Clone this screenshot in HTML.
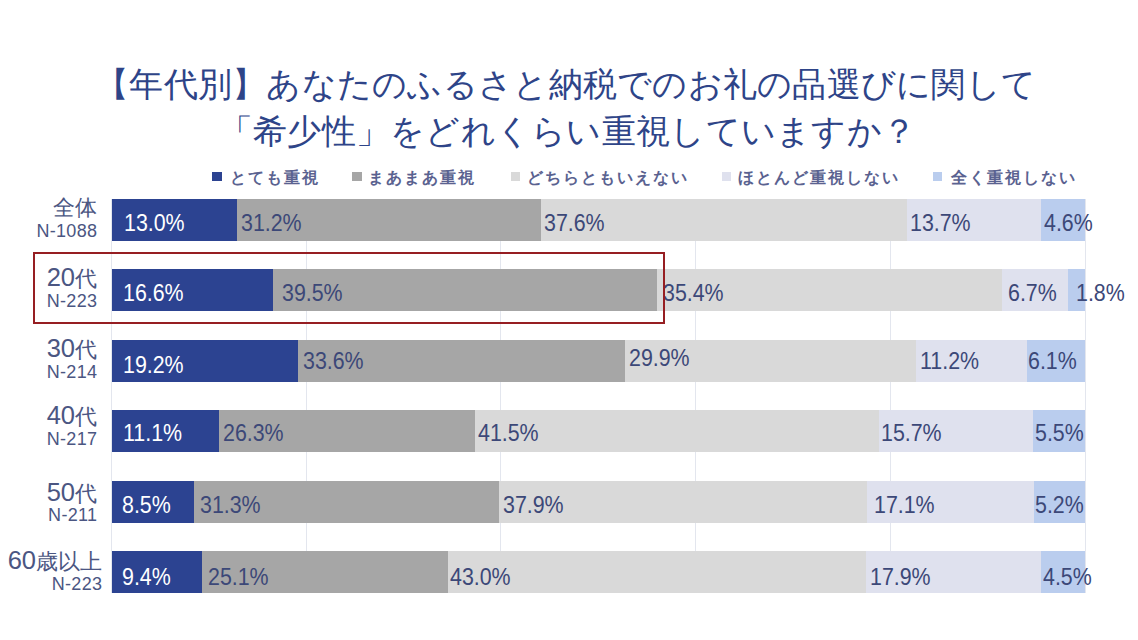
<!DOCTYPE html>
<html><head><meta charset="utf-8">
<style>
html,body{margin:0;padding:0;background:#fff;}
body{width:1138px;height:640px;position:relative;overflow:hidden;font-family:"Liberation Sans",sans-serif;}
.a{position:absolute;white-space:nowrap;}
.t{color:#2e4488;font-size:34px;line-height:40px;}
.lg{font-size:16px;line-height:20px;color:#5a6290;font-weight:bold;letter-spacing:2px;}
.mk{width:9.5px;height:9.2px;}
.g{width:1px;background:#e3e6ee;}
.s{height:42px;}
.v{font-size:23.5px;line-height:24px;color:#3c4878;transform:scaleX(0.91);transform-origin:0 0;}
.w{color:#fff;}
.c1{font-size:22px;line-height:24px;color:#4b5682;text-align:right;}
.d{font-size:25.5px;}
.c2{font-size:18px;line-height:18px;color:#4b5682;text-align:right;letter-spacing:0.3px;}
</style></head><body>

<div class="a t" style="top:64px;left:95px;letter-spacing:0.27px">【年代別】あなたのふるさと納税でのお礼の品選びに関して</div>
<div class="a t" style="top:110.5px;left:218.8px;letter-spacing:0.27px">「希少性」をどれくらい重視していますか？</div>
<div class="a mk" style="left:212.0px;top:171.5px;background:#2c4391"></div>
<div class="a lg" style="left:229.5px;top:167.5px">とても重視</div>
<div class="a mk" style="left:352.2px;top:171.5px;background:#a6a6a6"></div>
<div class="a lg" style="left:368.2px;top:167.5px">まあまあ重視</div>
<div class="a mk" style="left:510.5px;top:171.5px;background:#d9d9d9"></div>
<div class="a lg" style="left:526.5px;top:167.5px">どちらともいえない</div>
<div class="a mk" style="left:721.5px;top:171.5px;background:#dfe1ee"></div>
<div class="a lg" style="left:737.5px;top:167.5px">ほとんど重視しない</div>
<div class="a mk" style="left:932.5px;top:171.5px;background:#bacdee"></div>
<div class="a lg" style="left:950.5px;top:167.5px">全く重視しない</div>
<div class="a g" style="left:111.0px;top:199px;height:394px"></div>
<div class="a g" style="left:305.5px;top:199px;height:394px"></div>
<div class="a g" style="left:500.0px;top:199px;height:394px"></div>
<div class="a g" style="left:695.0px;top:199px;height:394px"></div>
<div class="a g" style="left:889.5px;top:199px;height:394px"></div>
<div class="a g" style="left:1084.5px;top:199px;height:394px"></div>
<div class="a s" style="left:111.5px;top:199.3px;width:973.5px;background:#2c4391"></div>
<div class="a s" style="left:237.2px;top:199.3px;width:847.8px;background:#a6a6a6"></div>
<div class="a s" style="left:540.7px;top:199.3px;width:544.3px;background:#d9d9d9"></div>
<div class="a s" style="left:907.3px;top:199.3px;width:177.7px;background:#dfe1ee"></div>
<div class="a s" style="left:1041px;top:199.3px;width:44.0px;background:#bacdee"></div>
<div class="a v w" style="left:123.6px;top:210.6px">13.0%</div>
<div class="a v" style="left:241.0px;top:210.6px">31.2%</div>
<div class="a v" style="left:544.3px;top:210.6px">37.6%</div>
<div class="a v" style="left:909.7px;top:210.6px">13.7%</div>
<div class="a v" style="left:1044.1px;top:210.6px">4.6%</div>
<div class="a c1" style="right:1041.0px;top:195.5px">全体</div>
<div class="a c2" style="right:1040.7px;top:221.8px">N-1088</div>
<div class="a s" style="left:111.5px;top:269.3px;width:973.5px;background:#2c4391"></div>
<div class="a s" style="left:272.6px;top:269.3px;width:812.4px;background:#a6a6a6"></div>
<div class="a s" style="left:657px;top:269.3px;width:428.0px;background:#d9d9d9"></div>
<div class="a s" style="left:1001.9px;top:269.3px;width:83.1px;background:#dfe1ee"></div>
<div class="a s" style="left:1068px;top:269.3px;width:17.0px;background:#bacdee"></div>
<div class="a v w" style="left:123.3px;top:280.6px">16.6%</div>
<div class="a v" style="left:282.2px;top:280.6px">39.5%</div>
<div class="a v" style="left:662.5px;top:280.6px">35.4%</div>
<div class="a v" style="left:1007.7px;top:280.6px">6.7%</div>
<div class="a v" style="left:1076.2px;top:280.6px">1.8%</div>
<div class="a c1" style="right:1041.0px;top:264.8px"><span class="d">20</span>代</div>
<div class="a c2" style="right:1040.7px;top:291.8px">N-223</div>
<div class="a s" style="left:111.5px;top:339.5px;width:973.5px;background:#2c4391"></div>
<div class="a s" style="left:297.6px;top:339.5px;width:787.4px;background:#a6a6a6"></div>
<div class="a s" style="left:624.6px;top:339.5px;width:460.4px;background:#d9d9d9"></div>
<div class="a s" style="left:915.8px;top:339.5px;width:169.2px;background:#dfe1ee"></div>
<div class="a s" style="left:1026.5px;top:339.5px;width:58.5px;background:#bacdee"></div>
<div class="a v w" style="left:123.3px;top:352.5px">19.2%</div>
<div class="a v" style="left:303.4px;top:349.3px">33.6%</div>
<div class="a v" style="left:629.4px;top:345.8px">29.9%</div>
<div class="a v" style="left:920.2px;top:348.8px">11.2%</div>
<div class="a v" style="left:1028.0px;top:348.8px">6.1%</div>
<div class="a c1" style="right:1041.0px;top:336.0px"><span class="d">30</span>代</div>
<div class="a c2" style="right:1040.7px;top:362.5px">N-214</div>
<div class="a s" style="left:111.5px;top:410.1px;width:973.5px;background:#2c4391"></div>
<div class="a s" style="left:219px;top:410.1px;width:866.0px;background:#a6a6a6"></div>
<div class="a s" style="left:475px;top:410.1px;width:610.0px;background:#d9d9d9"></div>
<div class="a s" style="left:879px;top:410.1px;width:206.0px;background:#dfe1ee"></div>
<div class="a s" style="left:1032.6px;top:410.1px;width:52.4px;background:#bacdee"></div>
<div class="a v w" style="left:123.3px;top:421.4px">11.1%</div>
<div class="a v" style="left:222.6px;top:421.4px">26.3%</div>
<div class="a v" style="left:478.4px;top:421.4px">41.5%</div>
<div class="a v" style="left:881.0px;top:421.4px">15.7%</div>
<div class="a v" style="left:1034.7px;top:421.4px">5.5%</div>
<div class="a c1" style="right:1041.0px;top:403.4px"><span class="d">40</span>代</div>
<div class="a c2" style="right:1040.7px;top:430.1px">N-217</div>
<div class="a s" style="left:111.5px;top:480.6px;width:973.5px;background:#2c4391"></div>
<div class="a s" style="left:193.6px;top:480.6px;width:891.4px;background:#a6a6a6"></div>
<div class="a s" style="left:498.6px;top:480.6px;width:586.4px;background:#d9d9d9"></div>
<div class="a s" style="left:867px;top:480.6px;width:218.0px;background:#dfe1ee"></div>
<div class="a s" style="left:1034px;top:480.6px;width:51.0px;background:#bacdee"></div>
<div class="a v w" style="left:122.3px;top:493.3px">8.5%</div>
<div class="a v" style="left:200.4px;top:493.3px">31.3%</div>
<div class="a v" style="left:503.0px;top:493.3px">37.9%</div>
<div class="a v" style="left:873.9px;top:493.3px">17.1%</div>
<div class="a v" style="left:1034.7px;top:493.3px">5.2%</div>
<div class="a c1" style="right:1041.0px;top:480.4px"><span class="d">50</span>代</div>
<div class="a c2" style="right:1040.7px;top:506.1px">N-211</div>
<div class="a s" style="left:111.5px;top:550.6px;width:973.5px;background:#2c4391"></div>
<div class="a s" style="left:201.7px;top:550.6px;width:883.3px;background:#a6a6a6"></div>
<div class="a s" style="left:447.5px;top:550.6px;width:637.5px;background:#d9d9d9"></div>
<div class="a s" style="left:865.7px;top:550.6px;width:219.3px;background:#dfe1ee"></div>
<div class="a s" style="left:1040.7px;top:550.6px;width:44.3px;background:#bacdee"></div>
<div class="a v w" style="left:122.3px;top:564.7px">9.4%</div>
<div class="a v" style="left:208.4px;top:564.7px">25.1%</div>
<div class="a v" style="left:449.5px;top:564.7px">43.0%</div>
<div class="a v" style="left:869.7px;top:564.7px">17.9%</div>
<div class="a v" style="left:1043.1px;top:564.7px">4.5%</div>
<div class="a c1" style="right:1036.0px;top:547.8px"><span class="d">60</span>歳以上</div>
<div class="a c2" style="right:1035.7px;top:574.6px">N-223</div>
<div class="a" style="left:33px;top:252px;width:628px;height:68px;border:2px solid #961e22"></div>
</body></html>
